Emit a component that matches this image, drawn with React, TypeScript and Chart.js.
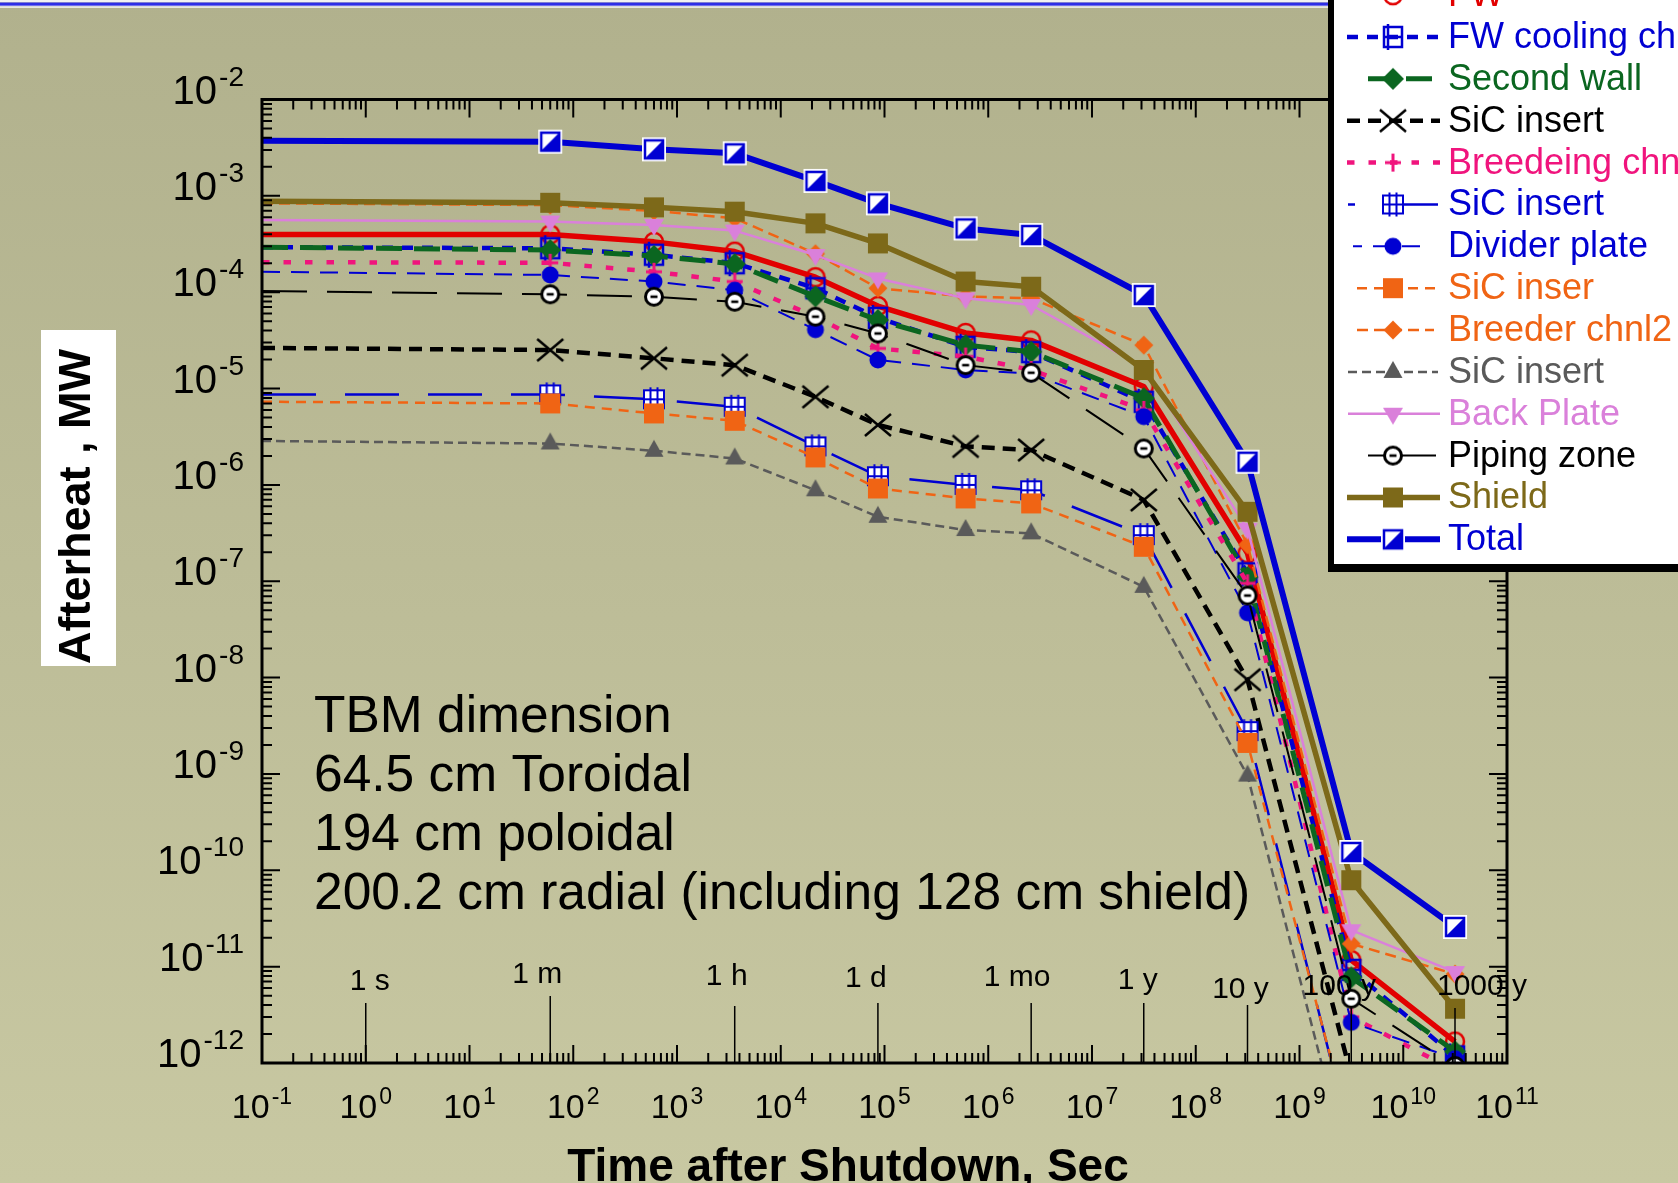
import React, { useEffect, useRef } from "react";
import { Chart, registerables } from "chart.js";

Chart.register(...registerables);

const W = 1678;
const H = 1183;
const FONT = '"Liberation Sans", Arial, Helvetica, sans-serif';

// ---------- DATA ----------
// time after shutdown (s): line start at left axis, 1 min, 10 min, 1 h, 6 h, 1 d, 1 wk, 1 mo, 1 y, 10 y, 100 y, 1000 y
const timeSec = [0.1, 60, 600, 3600, 21600, 86400, 604800, 2.592e6, 3.1536e7, 3.1536e8, 3.1536e9, 3.1536e10];

const fw = [3.98e-4, 3.98e-4, 3.33e-4, 2.64e-4, 1.43e-4, 7.18e-5, 3.78e-5, 3.16e-5, 1.05e-5, 1.95e-7, 1.17e-11, 1.67e-12];
const fwCooling = [2.93e-4, 2.86e-4, 2.45e-4, 2.0e-4, 1.1e-4, 5.41e-5, 2.71e-5, 2.39e-5, 7.29e-6, 1.21e-7, 9.27e-12, 1.17e-12];
const secondWall = [2.93e-4, 2.74e-4, 2.38e-4, 1.96e-4, 9.04e-5, 5.14e-5, 2.82e-5, 2.41e-5, 7.94e-6, 1.11e-7, 7.74e-12, 1.32e-12];
const sicInsertA = [2.64e-5, 2.51e-5, 2.06e-5, 1.75e-5, 8.2e-6, 4.19e-6, 2.51e-6, 2.3e-6, 6.98e-7, 9.51e-9, 7.41e-13, 3.16e-14];
const breedingChn = [2.05e-4, 2.02e-4, 1.63e-4, 1.29e-4, 5.55e-5, 2.61e-5, 2.15e-5, 1.56e-5, 6.0e-6, 9.51e-8, 3.01e-12, 8.32e-13];
const sicInsertB = [8.7e-6, 8.7e-6, 7.74e-6, 6.47e-6, 2.51e-6, 1.23e-6, 1.0e-6, 8.79e-7, 3.01e-7, 2.78e-9, 1.58e-13, 1e-14];
const dividerPlate = [1.63e-4, 1.51e-4, 1.29e-4, 1.05e-4, 4.08e-5, 1.98e-5, 1.56e-5, 1.43e-5, 5.11e-6, 4.7e-8, 2.64e-12, 1.11e-12];
const sicInserC = [7.29e-6, 7.01e-6, 5.52e-6, 4.63e-6, 1.93e-6, 9.18e-7, 7.24e-7, 6.43e-7, 2.28e-7, 2.1e-9, 1.78e-13, 1e-14];
const breederChnl2 = [8.36e-4, 8.02e-4, 6.98e-4, 5.85e-4, 2.51e-4, 1.1e-4, 9.04e-5, 8.65e-5, 2.82e-5, 2.39e-7, 1.73e-11, 8.36e-12];
const sicInsertD = [2.86e-6, 2.69e-6, 2.26e-6, 1.88e-6, 8.79e-7, 4.67e-7, 3.4e-7, 3.14e-7, 8.75e-8, 9.62e-10, 6.31e-14, 3.16e-15];
const backPlate = [5.61e-4, 5.41e-4, 4.99e-4, 4.36e-4, 2.43e-4, 1.39e-4, 8.63e-5, 7.36e-5, 1.67e-5, 3.5e-7, 2.39e-11, 8.79e-12];
const pipingZone = [1.03e-4, 9.51e-5, 8.97e-5, 7.96e-5, 5.57e-5, 3.73e-5, 1.75e-5, 1.46e-5, 2.39e-6, 7.11e-8, 4.65e-12, 9.33e-13];
const shield = [8.79e-4, 8.47e-4, 7.6e-4, 6.85e-4, 5.18e-4, 3.21e-4, 1.29e-4, 1.14e-4, 1.56e-5, 5.26e-7, 7.89e-11, 3.66e-12];
const total = [3.73e-3, 3.65e-3, 3.04e-3, 2.76e-3, 1.43e-3, 8.36e-4, 4.59e-4, 3.92e-4, 9.35e-5, 1.74e-6, 1.55e-10, 2.58e-11];

const seriesNames = [
  "FW", "FW cooling ch", "Second wall", "SiC insert", "Breedeing chn", "SiC insert", "Divider plate",
  "SiC inser", "Breeder chnl2", "SiC insert", "Back Plate", "Piping zone", "Shield", "Total",
];
const seriesValues = [
  fw, fwCooling, secondWall, sicInsertA, breedingChn, sicInsertB, dividerPlate,
  sicInserC, breederChnl2, sicInsertD, backPlate, pipingZone, shield, total,
];

// axis tick powers
const xTickPowers = [-1, 0, 1, 2, 3, 4, 5, 6, 7, 8, 9, 10, 11];
const yTickPowers = [-12, -11, -10, -9, -8, -7, -6, -5, -4, -3, -2];

// time reference marks
const timeMarkLabels = ["1 s", "1 m", "1 h", "1 d", "1 mo", "1 y", "10 y", "100 y", "1000 y"];
const timeMarkSeconds = [1, 60, 3600, 86400, 2.592e6, 3.1536e7, 3.1536e8, 3.1536e9, 3.1536e10];

const noteLines = [
  "TBM dimension",
  "64.5 cm Toroidal",
  "194 cm poloidal",
  "200.2 cm radial (including 128 cm shield)",
];

// ---------- STYLES ----------
const timeMarkDx = [4, -13, -8, -12, -14, -6, -7, -12, 27];
const timeMarkLabelY = [982, 975, 977, 979, 978, 981, 990, 987, 987];
const timeMarkTop = [1003, 996, 1006, 1003, 1003, 1003, 1005, 1006, 1008];

type Sty = {
  color: string;
  width: number;
  dash: number[];
  marker: string;
  lx0: number;
  lx1: number;
  loff: number;
  legendSolid?: boolean;
};

const BLUE = "#0000d2";
const styles: Sty[] = [
  { color: "#e20000", width: 5.5, dash: [], marker: "openCircle", lx0: 1347, lx1: 1440, loff: 0 },
  { color: BLUE, width: 4.5, dash: [11, 9], marker: "squareBar", lx0: 1347, lx1: 1440, loff: 0 },
  { color: "#0b6620", width: 5, dash: [26, 12], marker: "diamond", lx0: 1368, lx1: 1435, loff: 0 },
  { color: "#000000", width: 4.5, dash: [13, 8], marker: "cross", lx0: 1347, lx1: 1440, loff: 0 },
  { color: "#f0147d", width: 4.5, dash: [7.5, 14], marker: "plus", lx0: 1347, lx1: 1440, loff: 0 },
  { color: BLUE, width: 2.5, dash: [54, 29], marker: "hash", lx0: 1348, lx1: 1438, loff: 47 },
  { color: BLUE, width: 2, dash: [18, 11], marker: "dot", lx0: 1353, lx1: 1430, loff: 9 },
  { color: "#f06414", width: 2.5, dash: [10, 7], marker: "square", lx0: 1357, lx1: 1437, loff: 0 },
  { color: "#f06414", width: 2.5, dash: [11, 6], marker: "smallDiamond", lx0: 1357, lx1: 1434, loff: 0 },
  { color: "#5a5a5a", width: 2.5, dash: [9, 5], marker: "triUp", lx0: 1348, lx1: 1438, loff: 0 },
  { color: "#da80da", width: 2.5, dash: [], marker: "triDown", lx0: 1348, lx1: 1440, loff: 0 },
  { color: "#000000", width: 2, dash: [45, 20], marker: "pipe", lx0: 1368, lx1: 1436, loff: 0, legendSolid: true },
  { color: "#7d6919", width: 5.5, dash: [], marker: "square", lx0: 1347, lx1: 1440, loff: 0 },
  { color: BLUE, width: 6, dash: [], marker: "half", lx0: 1347, lx1: 1440, loff: 0 },
];

function makeMarker(kind: string, color: string): HTMLCanvasElement {
  const c = document.createElement("canvas");
  c.width = 34;
  c.height = 34;
  const g = c.getContext("2d") as CanvasRenderingContext2D;
  const cx = 17;
  const cy = 17;
  g.strokeStyle = color;
  g.fillStyle = color;
  g.lineWidth = 2.5;
  g.lineJoin = "miter";
  switch (kind) {
    case "openCircle":
      g.beginPath();
      g.arc(cx, cy, 9, 0, Math.PI * 2);
      g.stroke();
      break;
    case "squareBar":
      g.strokeRect(cx - 9, cy - 10, 18, 20);
      g.beginPath();
      g.moveTo(cx - 9, cy);
      g.lineTo(cx + 9, cy);
      g.moveTo(cx - 5, cy - 13);
      g.lineTo(cx - 5, cy + 13);
      g.stroke();
      break;
    case "diamond":
      g.beginPath();
      g.moveTo(cx, cy - 11);
      g.lineTo(cx + 11, cy);
      g.lineTo(cx, cy + 11);
      g.lineTo(cx - 11, cy);
      g.closePath();
      g.fill();
      break;
    case "smallDiamond":
      g.beginPath();
      g.moveTo(cx, cy - 9.5);
      g.lineTo(cx + 9.5, cy);
      g.lineTo(cx, cy + 9.5);
      g.lineTo(cx - 9.5, cy);
      g.closePath();
      g.fill();
      break;
    case "cross":
      g.beginPath();
      g.moveTo(cx - 13, cy - 11);
      g.lineTo(cx + 13, cy + 11);
      g.moveTo(cx + 13, cy - 11);
      g.lineTo(cx - 13, cy + 11);
      g.stroke();
      break;
    case "plus":
      g.lineWidth = 3;
      g.beginPath();
      g.moveTo(cx - 8, cy);
      g.lineTo(cx + 8, cy);
      g.moveTo(cx, cy - 9);
      g.lineTo(cx, cy + 9);
      g.stroke();
      break;
    case "hash":
      g.fillStyle = "#ffffff";
      g.fillRect(cx - 10, cy - 9, 20, 18);
      g.lineWidth = 2;
      g.strokeRect(cx - 10, cy - 9, 20, 18);
      g.beginPath();
      g.moveTo(cx - 3.5, cy - 12);
      g.lineTo(cx - 3.5, cy + 12);
      g.moveTo(cx + 3.5, cy - 12);
      g.lineTo(cx + 3.5, cy + 12);
      g.moveTo(cx - 10, cy);
      g.lineTo(cx + 10, cy);
      g.stroke();
      break;
    case "dot":
      g.beginPath();
      g.arc(cx, cy, 8.5, 0, Math.PI * 2);
      g.fill();
      break;
    case "square":
      g.fillRect(cx - 10, cy - 10, 20, 20);
      break;
    case "triUp":
      g.beginPath();
      g.moveTo(cx, cy - 11);
      g.lineTo(cx + 9.5, cy + 6);
      g.lineTo(cx - 9.5, cy + 6);
      g.closePath();
      g.fill();
      break;
    case "triDown":
      g.beginPath();
      g.moveTo(cx - 10, cy - 6);
      g.lineTo(cx + 10, cy - 6);
      g.lineTo(cx, cy + 11);
      g.closePath();
      g.fill();
      break;
    case "pipe":
      g.beginPath();
      g.arc(cx, cy, 8.5, 0, Math.PI * 2);
      g.fillStyle = "#ffffff";
      g.fill();
      g.lineWidth = 3;
      g.stroke();
      g.fillStyle = color;
      g.fillRect(cx - 3.5, cy - 1.3, 7, 2.6);
      break;
    case "half":
      g.fillStyle = "#ffffff";
      g.fillRect(cx - 12, cy - 12, 24, 24);
      g.fillStyle = color;
      g.beginPath();
      g.moveTo(cx + 9, cy - 9);
      g.lineTo(cx + 9, cy + 9);
      g.lineTo(cx - 9, cy + 9);
      g.closePath();
      g.fill();
      g.strokeRect(cx - 9, cy - 9, 18, 18);
      break;
  }
  return c;
}

function drawPow(
  ctx: CanvasRenderingContext2D,
  exp: string,
  x: number,
  baseY: number,
  align: "center" | "right",
  big: number,
  small: number,
  raise: number
) {
  ctx.font = `${big}px ${FONT}`;
  const w10 = ctx.measureText("10").width;
  ctx.font = `${small}px ${FONT}`;
  const we = ctx.measureText(exp).width;
  const gap = 2;
  const tot = w10 + gap + we;
  const x0 = align === "center" ? x - tot / 2 : x - tot;
  ctx.textAlign = "left";
  ctx.textBaseline = "alphabetic";
  ctx.fillStyle = "#000";
  ctx.font = `${big}px ${FONT}`;
  ctx.fillText("10", x0, baseY);
  ctx.font = `${small}px ${FONT}`;
  ctx.fillText(exp, x0 + w10 + gap, baseY - raise);
}

export default function App() {
  const ref = useRef<HTMLCanvasElement>(null);

  useEffect(() => {
    const canvas = ref.current;
    if (!canvas) return;
    const markers = styles.map((s) => makeMarker(s.marker, s.color));
    const N = seriesNames.length;

    const datasets = seriesNames.map((name, i) => {
      const s = styles[i];
      return {
        label: name,
        data: timeSec.map((t, k) => ({ x: t, y: seriesValues[i][k] })),
        borderColor: s.color,
        backgroundColor: s.color,
        borderWidth: s.width,
        borderDash: s.dash,
        borderCapStyle: "butt",
        borderJoinStyle: "round",
        pointStyle: markers[i],
        pointRadius: timeSec.map((_, k) => (k === 0 ? 0 : 10)),
        pointHoverRadius: timeSec.map((_, k) => (k === 0 ? 0 : 10)),
        tension: 0,
        fill: false,
        clip: 0,
        order: N - 1 - i,
      };
    });

    const decor = {
      id: "decor",
      beforeDraw(chart: any) {
        const ctx: CanvasRenderingContext2D = chart.ctx;
        ctx.save();
        const grad = ctx.createLinearGradient(0, 0, 0, H);
        grad.addColorStop(0, "#b1b18d");
        grad.addColorStop(1, "#c8c8a2");
        ctx.fillStyle = grad;
        ctx.fillRect(0, 0, W, H);
        ctx.fillStyle = "#f2f2f2";
        ctx.fillRect(0, 0, W, 2.5);
        ctx.fillStyle = "#2e2ee6";
        ctx.fillRect(0, 2.5, W, 2.5);
        ctx.fillStyle = "#7070ee";
        ctx.fillRect(0, 5, W, 1.3);
        ctx.fillStyle = "#f4f4f0";
        ctx.fillRect(0, 6.3, W, 1.5);
        ctx.restore();
      },
      afterDraw(chart: any) {
        const ctx: CanvasRenderingContext2D = chart.ctx;
        const { left, right, top, bottom } = chart.chartArea;
        const xs = chart.scales.x;
        const ys = chart.scales.y;
        ctx.save();

        // time reference marks
        ctx.strokeStyle = "#000";
        ctx.lineWidth = 1.5;
        ctx.setLineDash([]);
        timeMarkSeconds.forEach((sec, i) => {
          const px = xs.getPixelForValue(sec);
          ctx.beginPath();
          ctx.moveTo(px, timeMarkTop[i]);
          ctx.lineTo(px, bottom);
          ctx.stroke();
          ctx.font = `30px ${FONT}`;
          ctx.fillStyle = "#000";
          ctx.textAlign = "center";
          ctx.textBaseline = "middle";
          ctx.fillText(timeMarkLabels[i], px + timeMarkDx[i], timeMarkLabelY[i]);
        });

        // ticks (inward)
        ctx.lineWidth = 2;
        ctx.beginPath();
        for (let e = -1; e <= 10; e++) {
          for (let m = 1; m <= 9; m++) {
            const v = m * Math.pow(10, e);
            const px = xs.getPixelForValue(v);
            const len = m === 1 ? 18 : 10;
            ctx.moveTo(px, bottom);
            ctx.lineTo(px, bottom - len);
            ctx.moveTo(px, top);
            ctx.lineTo(px, top + len);
          }
        }
        for (let e = -12; e <= -3; e++) {
          for (let m = 1; m <= 9; m++) {
            const v = m * Math.pow(10, e);
            const py = ys.getPixelForValue(v);
            const len = m === 1 ? 18 : 10;
            ctx.moveTo(left, py);
            ctx.lineTo(left + len, py);
            ctx.moveTo(right, py);
            ctx.lineTo(right - len, py);
          }
        }
        ctx.stroke();

        // frame
        ctx.lineWidth = 3;
        ctx.strokeRect(left, top, right - left, bottom - top);

        // tick labels
        xTickPowers.forEach((p) => {
          const px = xs.getPixelForValue(Math.pow(10, p));
          drawPow(ctx, String(p), px, 1118, "center", 34, 23, 14);
        });
        yTickPowers.forEach((p) => {
          const py = ys.getPixelForValue(Math.pow(10, p));
          drawPow(ctx, String(p), 244, py + 4, "right", 40, 28, 18);
        });

        // axis titles
        ctx.fillStyle = "#000";
        ctx.font = `bold 46px ${FONT}`;
        ctx.textAlign = "center";
        ctx.textBaseline = "alphabetic";
        ctx.fillText("Time after Shutdown, Sec", 848, 1181);

        ctx.fillStyle = "#ffffff";
        ctx.fillRect(41, 330, 75, 336);
        ctx.save();
        ctx.translate(90, 506.5);
        ctx.rotate(-Math.PI / 2);
        ctx.fillStyle = "#000";
        ctx.font = `bold 45px ${FONT}`;
        ctx.textAlign = "center";
        ctx.textBaseline = "alphabetic";
        ctx.fillText("Afterheat , MW", 0, 0);
        ctx.restore();

        // annotation
        ctx.fillStyle = "#000";
        ctx.font = `51.5px ${FONT}`;
        ctx.textAlign = "left";
        ctx.textBaseline = "alphabetic";
        noteLines.forEach((t, i) => ctx.fillText(t, 314, 732 + i * 59));

        // legend
        ctx.fillStyle = "#000";
        ctx.fillRect(1328, -10, W, 582);
        ctx.fillStyle = "#ffffff";
        ctx.fillRect(1334, -10, W, 574);
        seriesNames.forEach((name, i) => {
          const s = styles[i];
          const y = 37 + (i - 1) * 41.86;
          ctx.save();
          ctx.strokeStyle = s.color;
          ctx.lineWidth = s.width;
          ctx.lineCap = "butt";
          ctx.setLineDash(s.legendSolid ? [] : s.dash);
          ctx.lineDashOffset = s.loff;
          ctx.beginPath();
          ctx.moveTo(s.lx0, y);
          ctx.lineTo(s.lx1, y);
          ctx.stroke();
          ctx.restore();
          const mk = markers[i];
          ctx.drawImage(mk, 1393 - mk.width / 2, y - mk.height / 2);
          ctx.fillStyle = s.color;
          ctx.font = `36px ${FONT}`;
          ctx.textAlign = "left";
          ctx.textBaseline = "middle";
          ctx.fillText(name, 1448, y + 1);
        });

        ctx.restore();
      },
    };

    const chart = new Chart(canvas, {
      type: "line",
      data: { datasets: datasets as any },
      options: {
        responsive: false,
        maintainAspectRatio: false,
        animation: false,
        devicePixelRatio: 1,
        events: [],
        layout: { padding: { left: 262, right: W - 1507, top: 99.5, bottom: H - 1063 } },
        scales: {
          x: { type: "logarithmic", min: 0.1, max: 1e11, display: false },
          y: { type: "logarithmic", min: 1e-12, max: 1e-2, display: false },
        },
        plugins: { legend: { display: false }, tooltip: { enabled: false } },
      } as any,
      plugins: [decor],
    });
    return () => chart.destroy();
  }, []);

  return (
    <div style={{ position: "fixed", left: 0, top: 0, width: W, height: H, overflow: "hidden" }}>
      <canvas ref={ref} width={W} height={H} style={{ display: "block", width: W, height: H }} />
    </div>
  );
}
